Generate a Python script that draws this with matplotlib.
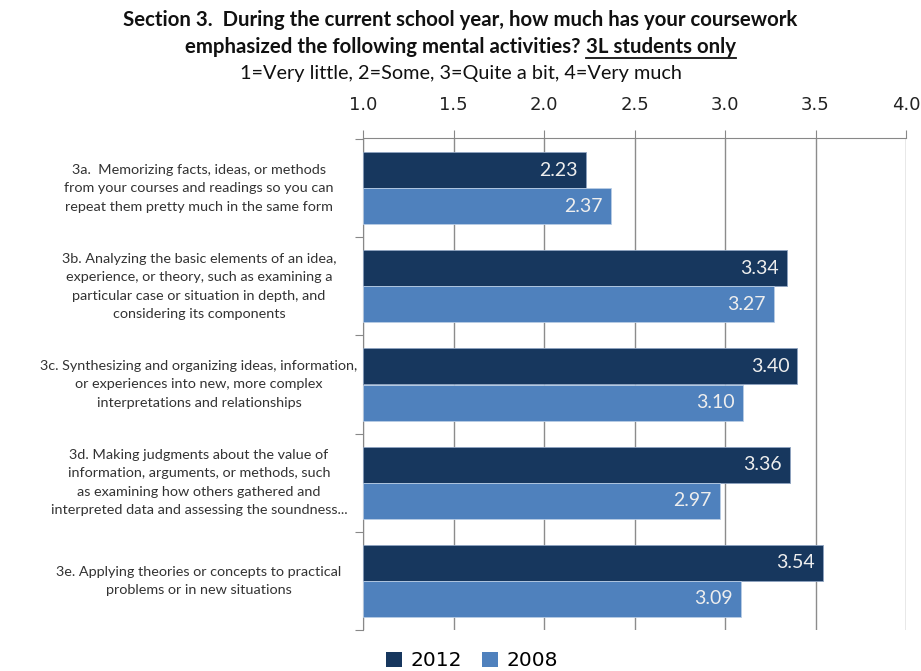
import matplotlib
matplotlib.use("Agg")
import matplotlib.pyplot as plt
import matplotlib.transforms as mtransforms
from matplotlib.patches import Patch
import numpy as np

plt.rcParams['font.family'] = ['Lato', 'DejaVu Sans']

categories = [
    "3a.  Memorizing facts, ideas, or methods\nfrom your courses and readings so you can\nrepeat them pretty much in the same form",
    "3b. Analyzing the basic elements of an idea,\nexperience, or theory, such as examining a\nparticular case or situation in depth, and\nconsidering its components",
    "3c. Synthesizing and organizing ideas, information,\nor experiences into new, more complex\ninterpretations and relationships",
    "3d. Making judgments about the value of\ninformation, arguments, or methods, such\nas examining how others gathered and\ninterpreted data and assessing the soundness...",
    "3e. Applying theories or concepts to practical\nproblems or in new situations",
]
values_2012 = [2.23, 3.34, 3.40, 3.36, 3.54]
values_2008 = [2.37, 3.27, 3.10, 2.97, 3.09]
series_names = ["2012", "2008"]
xticks = [1.0, 1.5, 2.0, 2.5, 3.0, 3.5, 4.0]

c2012 = "#17375E"
c2008 = "#4F81BD"

fig = plt.figure(figsize=(9.21, 6.71), dpi=100)
ax = fig.add_axes([363/921, 1-630/671, (906-363)/921, (630-138)/671])

y = np.arange(len(categories))
h = 0.366
off = 0.184
xmin = 1.0
ax.barh(y - off, np.array(values_2012) - xmin, left=xmin, height=h, color=c2012,
        edgecolor="#8EA3C0", linewidth=0.6, zorder=3)
ax.barh(y + off, np.array(values_2008) - xmin, left=xmin, height=h, color=c2008,
        edgecolor="#B9CDE5", linewidth=0.6, zorder=3)

for yy, v in zip(y - off, values_2012):
    ax.text(v - 0.045, yy, f"{v:.2f}", ha="right", va="center", color="#EEEEEE",
            fontsize=14, zorder=4)
for yy, v in zip(y + off, values_2008):
    ax.text(v - 0.045, yy, f"{v:.2f}", ha="right", va="center", color="#EEEEEE",
            fontsize=14, zorder=4)

ax.set_xlim(1.0, 4.0)
ax.set_ylim(4.5, -0.51)
ax.xaxis.tick_top()
ax.set_xticks(xticks)
ax.set_xticklabels([f"{t:.1f}" for t in xticks], fontsize=13, family="DejaVu Sans", color="#222222")
ax.tick_params(axis="x", length=6, color="#888888", pad=11)
ax.grid(axis="x", color="#8C8C8C", linewidth=1.0, zorder=0)
ax.set_yticks(np.arange(len(categories) + 1) - 0.5)
ax.set_yticklabels([])
ax.tick_params(axis="y", length=6, color="#888888")
for s in ["right", "bottom"]:
    ax.spines[s].set_visible(False)
ax.spines["top"].set_color("#888888")
ax.spines["left"].set_color("#888888")

trans = mtransforms.blended_transform_factory(fig.transFigure, ax.transData)
for yi, lab in zip(y, categories):
    ax.text(199/921, yi, lab, transform=trans, ha="center", va="center",
            multialignment="center", fontsize=10.4, color="#333333", linespacing=1.65)

# Title
fig.text(0.5, 1 - 20/671, "Section 3.  During the current school year, how much has your coursework",
         ha="center", va="center", fontsize=14.7, fontweight="bold", color="#111111")
part1 = "emphasized the following mental activities? "
part2 = "3L students only"
t1 = fig.text(0, 1 - 47/671, part1, ha="left", va="center", fontsize=14.7, fontweight="bold", color="#111111")
t2 = fig.text(0, 1 - 47/671, part2, ha="left", va="center", fontsize=14.7, fontweight="bold", color="#111111")
fig.canvas.draw()
r = fig.canvas.get_renderer()
w1 = t1.get_window_extent(r).width
w2 = t2.get_window_extent(r).width
W = fig.bbox.width
start = (W - (w1 + w2)) / 2
t1.set_x(start / W)
t2.set_x((start + w1) / W)
uy = (1 - 58/671)
fig.add_artist(plt.Line2D([(start + w1) / W, (start + w1 + w2) / W], [uy, uy],
                          transform=fig.transFigure, color="#111111", linewidth=1.3))
fig.text(0.5, 1 - 73/671, "1=Very little, 2=Some, 3=Quite a bit, 4=Very much",
         ha="center", va="center", fontsize=14.3, color="#111111")

handles = [Patch(facecolor=c2012, label=series_names[0]), Patch(facecolor=c2008, label=series_names[1])]
fig.legend(handles=handles, loc="center", bbox_to_anchor=(472/921, 1 - 661/671), ncol=2,
           frameon=False, prop={"family": "DejaVu Sans", "size": 14.5}, handlelength=0.8,
           handleheight=0.8, handletextpad=0.4, columnspacing=1.0)

fig.savefig("out.png", dpi=100)
